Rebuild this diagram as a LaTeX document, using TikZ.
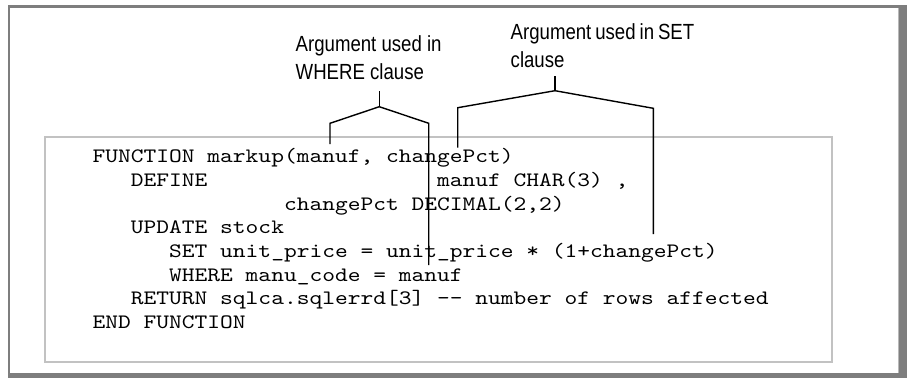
\documentclass[tikz,border=0pt]{standalone}
\usepackage{fontspec}
\newfontfamily\codefont[FakeStretch=1.185]{lmmono10-regular.otf}
\newfontfamily\narrowsans[FakeStretch=0.85]{Liberation Sans}
\usepackage{xcolor}
\usetikzlibrary{positioning}
\definecolor{framegray}{HTML}{7E7E7E}
\definecolor{edgegray}{HTML}{B8B8B8}
\definecolor{boxgray}{HTML}{C2C2C2}
\newcommand\ind[1]{\hspace*{#1\fontcharwd\font`\x}}

\begin{document}
\begin{tikzpicture}[
    x=1pt, y=-1pt,
    callout/.style={font=\narrowsans\fontsize{21.9}{27.6}\selectfont, align=left, anchor=north west, inner sep=0pt},
    codetext/.style={font=\codefont\fontsize{20.5}{23.7}\selectfont, align=left, anchor=base west, inner sep=0pt},
    brace/.style={line width=1.4pt, line join=miter}
]
    \useasboundingbox (0,0) rectangle (907,378);
    % frame with shadow
    \fill[framegray] (8,5) rectangle (907,378);
    \fill[white] (10,8) rectangle (898,373);
    \draw[edgegray, line width=1pt] (898.5,8) -- (898.5,373);
    \draw[boxgray, line width=1.5pt] (45,137) rectangle (832,362);

    % base anchor sits on the last line (END FUNCTION)
    \node[codetext] (code) at (92.5,328.6) {FUNCTION markup(manuf, changePct)\\
\ind{3}DEFINE\ind{18}manuf CHAR(3) ,\\
\ind{15}changePct DECIMAL(2,2)\\
\ind{3}UPDATE stock\\
\ind{6}SET unit\_price = unit\_price * (1+changePct)\\
\ind{6}WHERE manu\_code = manuf\\
\ind{3}RETURN sqlca.sqlerrd[3] -{}- number of rows affected\\
END FUNCTION};

    \node[callout] (whereLbl) at (295.5,35.7) {Argument used in\\WHERE clause};
    \node[callout] (setLbl) at (510.5,23.8) {{\spaceskip=0.18em\relax Argument used in SET}\\clause};

    % WHERE bracket
    \coordinate (wTop) at (379.3,91);
    \coordinate (wApex) at (379.3,106.7);
    \coordinate (wL) at (330,144);
    \coordinate (wR) at (428.7,265);
    \draw[brace] (wTop) -- (wApex);
    \draw[brace] (wL) -- (330,123.3) -- (wApex) -- (428.7,123.3) -- (wR);

    % SET bracket
    \coordinate (sTop) at (555,76);
    \coordinate (sApex) at (555,90.7);
    \coordinate (sL) at (457.7,147.5);
    \coordinate (sR) at (653.3,234);
    \draw[brace] (sTop) -- (sApex);
    \draw[brace] (sL) -- (457.7,107.7) -- (sApex) -- (653.3,108.3) -- (sR);
\end{tikzpicture}
\end{document}
